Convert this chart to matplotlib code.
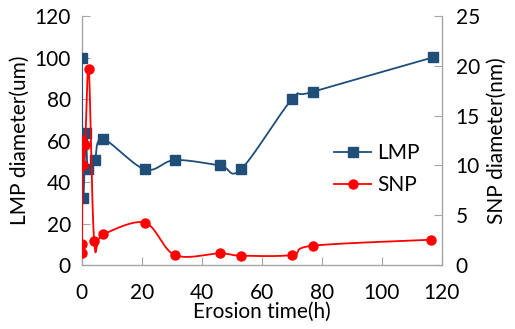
import numpy as np
import matplotlib
matplotlib.use("Agg")
import matplotlib.pyplot as plt
from matplotlib.lines import Line2D

plt.rcParams['font.family'] = ['Lato', 'DejaVu Sans']

# Data
lmp_time = [0, 0.1, 0.5, 1.3, 2, 4.3, 7, 21, 31, 46, 53, 70, 77, 117]
lmp_diam = [100, 59.4, 32.4, 63.5, 46.5, 50.6, 60.7, 46.1, 50.6, 48.0, 46.1, 79.8, 83.5, 100.1]

snp_time = [0, 0.05, 0.2, 0.4, 1.1, 2.3, 4.1, 7, 21, 31, 46, 53, 70, 77, 116.5]
snp_diam = [1.17, 2.07, 12.55, 10.0, 12.05, 19.7, 2.4, 3.08, 4.25, 1.0, 1.17, 0.94, 1.0, 1.94, 2.54]

x_ticks = [0, 20, 40, 60, 80, 100, 120]
left_ticks = [0, 20, 40, 60, 80, 100, 120]
right_ticks = [0, 5, 10, 15, 20, 25]

BLUE = '#1F4E79'
RED = '#FF0000'
GREY = '#A6A6A6'
FS = 15


def smooth(x, y, n=30):
    x = np.asarray(x, float)
    y = np.asarray(y, float)
    xs, ys = [], []
    m = len(x)
    for i in range(m - 1):
        p0 = np.array([x[max(i - 1, 0)], y[max(i - 1, 0)]])
        p1 = np.array([x[i], y[i]])
        p2 = np.array([x[i + 1], y[i + 1]])
        p3 = np.array([x[min(i + 2, m - 1)], y[min(i + 2, m - 1)]])
        c1 = p1 + (p2 - p0) / 6.0
        c2 = p2 - (p3 - p1) / 6.0
        t = np.linspace(0, 1, n)[:, None]
        pts = ((1 - t) ** 3) * p1 + 3 * ((1 - t) ** 2) * t * c1 + 3 * (1 - t) * t ** 2 * c2 + t ** 3 * p2
        xs.extend(pts[:, 0])
        ys.extend(pts[:, 1])
    return np.array(xs), np.array(ys)


fig = plt.figure(figsize=(5.15, 3.29), dpi=100)
ax = fig.add_axes([0.159, 0.1945, 0.699, 0.7565])
ax2 = ax.twinx()

sx, sy = smooth(lmp_time, lmp_diam)
ax.plot(sx, sy, color=BLUE, lw=1.3, zorder=3)
ax.plot(lmp_time, lmp_diam, ls='none', marker='s', ms=6.5, color=BLUE, zorder=4)

rx, ry = smooth(snp_time, snp_diam)
ax2.plot(rx, ry, color=RED, lw=1.3, zorder=3)
ax2.plot(snp_time, snp_diam, ls='none', marker='o', ms=6.5, color=RED, zorder=4)

ax.set_xlim(0, 120)
ax.set_ylim(0, 120)
ax2.set_ylim(0, 25)
ax.set_xticks(x_ticks)
ax.set_yticks(left_ticks)
ax2.set_yticks(right_ticks)

for a in (ax, ax2):
    for s in a.spines.values():
        s.set_color(GREY)
        s.set_linewidth(1.0)
    a.spines['top'].set_visible(False)
ax.spines['right'].set_visible(False)
ax2.spines['left'].set_visible(False)
ax2.spines['bottom'].set_visible(False)

ax.tick_params(axis='x', direction='in', length=6, color=GREY, labelsize=FS, pad=13)
ax.tick_params(axis='y', direction='in', length=6, color=GREY, labelsize=FS, pad=8)
ax2.tick_params(axis='y', direction='in', length=6, color=GREY, labelsize=FS, pad=10)

ax.set_xlabel('Erosion time(h)', fontsize=FS, labelpad=-1)
ax.set_ylabel('LMP diameter(um)', fontsize=FS, labelpad=3)
ax2.set_ylabel('SNP diameter(nm)', fontsize=FS, labelpad=5)

handles = [Line2D([], [], color=BLUE, lw=1.3, marker='s', ms=6.5),
           Line2D([], [], color=RED, lw=1.3, marker='o', ms=6.5)]
ax2.legend(handles, ['LMP', 'SNP'], loc='center left', bbox_to_anchor=(0.70, 0.385),
           frameon=False, fontsize=FS, handlelength=1.8, labelspacing=0.55,
           handletextpad=0.3, borderpad=0, borderaxespad=0)

fig.savefig('out.png', dpi=100)
